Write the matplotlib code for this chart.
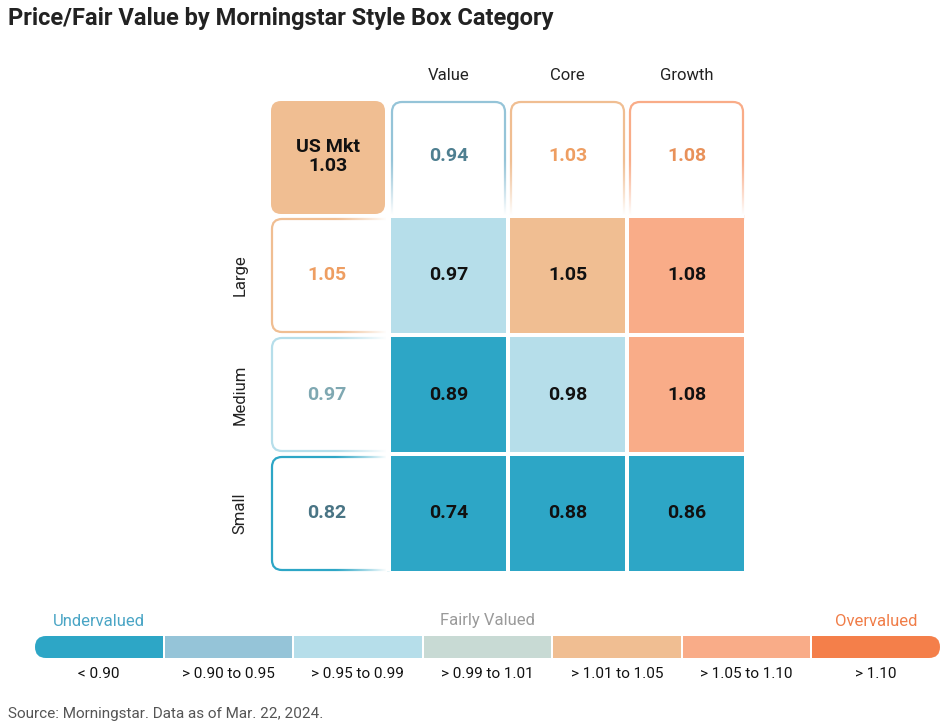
import numpy as np
import matplotlib
matplotlib.use("Agg")
import matplotlib.pyplot as plt
from matplotlib.patches import FancyBboxPatch, Rectangle

plt.rcParams['font.family'] = ['Roboto', 'DejaVu Sans']

# data
styles = ['Value', 'Core', 'Growth']
sizes = ['Large', 'Medium', 'Small']
grid = [[0.97, 1.05, 1.08],
        [0.89, 0.98, 1.08],
        [0.74, 0.88, 0.86]]
style_totals = [0.94, 1.03, 1.08]
size_totals = [1.05, 0.97, 0.82]
market = 1.03

bin_edges = [0.90, 0.95, 0.99, 1.01, 1.05, 1.10]
bin_labels = ['< 0.90', '> 0.90 to 0.95', '> 0.95 to 0.99', '> 0.99 to 1.01',
              '> 1.01 to 1.05', '> 1.05 to 1.10', '> 1.10']
bin_colors = ['#2DA6C6', '#95C4D8', '#B6DEEA', '#C8DAD4', '#F0BE92', '#F9AC88', '#F47F4A']
text_colors = ['#4A7585', '#4E7F90', '#7FA8B2', '#8C9A96', '#EE9E62', '#E8915A', '#E0703A']


def bin_of(v):
    return int(np.digitize(v, bin_edges, right=True))


fig = plt.figure(figsize=(9.52, 7.27), dpi=100)
ax = fig.add_axes([0, 0, 1, 1])
ax.set_xlim(0, 952)
ax.set_ylim(727, 0)
ax.axis('off')

# geometry (pixels)
col_x = [271, 391, 510, 629]
row_y = [101, 218, 337, 456]
cw, ch = 115, 115
rad = 10


def fade(x0, x1, y0, y1, vertical):
    n = 64
    a = np.linspace(0, 1, n) ** 1.2
    if vertical:
        img = np.ones((n, 1, 4))
        img[:, 0, 3] = a
    else:
        img = np.ones((1, n, 4))
        img[0, :, 3] = a
    ax.imshow(img, extent=(x0, x1, y1, y0), origin='upper', aspect='auto',
              zorder=3, interpolation='bilinear')


# market box
b = bin_of(market)
ax.add_patch(FancyBboxPatch((col_x[0], row_y[0]), cw - 1, ch - 2,
                            boxstyle=f"round,pad=0,rounding_size={rad}",
                            fc=bin_colors[b], ec='none', zorder=2))
ax.text(col_x[0] + cw / 2, row_y[0] + ch / 2 - 2, f"US Mkt\n{market:.2f}",
        ha='center', va='center', fontsize=14, fontweight='bold',
        color='#111111', linespacing=1.1, zorder=5)

# column headers
for j, (s, v) in enumerate(zip(styles, style_totals)):
    x = col_x[j + 1]
    b = bin_of(v)
    ax.add_patch(FancyBboxPatch((x + 1, row_y[0] + 1), cw - 2, ch + 12,
                                boxstyle=f"round,pad=0,rounding_size={rad}",
                                fc='white', ec=bin_colors[b], lw=1.6, zorder=2))
    fade(x - 3, x + cw + 3, row_y[0] + 0.5 * ch, row_y[0] + ch - 1, True)
    ax.text(x + cw / 2, row_y[0] + 55, f"{v:.2f}", ha='center', va='center',
            fontsize=14, fontweight='bold', color=text_colors[b], zorder=5)
    ax.text(x + cw / 2, 76, s, ha='center', va='center', fontsize=12,
            color='#222222')

# row headers
for i, (s, v) in enumerate(zip(sizes, size_totals)):
    y = row_y[i + 1]
    b = bin_of(v)
    ax.add_patch(FancyBboxPatch((col_x[0] + 1, y + 1), cw + 12, ch - 2,
                                boxstyle=f"round,pad=0,rounding_size={rad}",
                                fc='white', ec=bin_colors[b], lw=1.6, zorder=2))
    fade(col_x[0] + 0.55 * cw, col_x[0] + cw + 1, y - 3, y + ch + 1, False)
    ax.text(col_x[0] + cw / 2 - 2, y + ch / 2, f"{v:.2f}", ha='center', va='center',
            fontsize=14, fontweight='bold', color=text_colors[b], zorder=5)
    ax.text(240, y + ch / 2, s, ha='center', va='center', fontsize=12,
            rotation=90, color='#222222')

# white strips between header boxes and grid
ax.add_patch(Rectangle((col_x[1] - 4, row_y[0] + ch - 1), 3 * cw + 12, 6,
                       fc='white', ec='none', zorder=3.5))
ax.add_patch(Rectangle((col_x[0] + cw, row_y[1] - 4), 6, 3 * ch + 12,
                       fc='white', ec='none', zorder=3.5))

# grid cells
for i in range(3):
    for j in range(3):
        v = grid[i][j]
        x, y = col_x[j + 1], row_y[i + 1]
        ax.add_patch(Rectangle((x, y), cw, ch, fc=bin_colors[bin_of(v)],
                               ec='none', zorder=4))
        ax.text(x + cw / 2, y + ch / 2, f"{v:.2f}", ha='center', va='center',
                fontsize=14, fontweight='bold', color='#111111', zorder=5)

# legend bar
lx0, lx1, ly, lh = 35, 940, 636, 22
n = len(bin_colors)
gap = 2
seg = (lx1 - lx0 - gap * (n - 1)) / n
for k, (c, lab) in enumerate(zip(bin_colors, bin_labels)):
    x = lx0 + k * (seg + gap)
    if k == 0 or k == n - 1:
        ax.add_patch(FancyBboxPatch((x, ly), seg, lh,
                                    boxstyle=f"round,pad=0,rounding_size={lh / 2}",
                                    fc=c, ec='none'))
        rx = x + seg / 2 if k == 0 else x
        ax.add_patch(Rectangle((rx, ly), seg / 2, lh, fc=c, ec='none'))
    else:
        ax.add_patch(Rectangle((x, ly), seg, lh, fc=c, ec='none'))
    ax.text(x + seg / 2, 674, lab, ha='center', va='center', fontsize=11,
            color='#111111')

ax.text(lx0 + seg / 2, 621, 'Undervalued', ha='center', va='center',
        fontsize=12, color='#4AA5C5')
ax.text(lx0 + 3 * (seg + gap) + seg / 2, 621, 'Fairly Valued', ha='center',
        va='center', fontsize=12, color='#9A9A9A')
ax.text(lx0 + 6 * (seg + gap) + seg / 2, 621, 'Overvalued', ha='center',
        va='center', fontsize=12, color='#F07D48')

ax.text(8, 18, 'Price/Fair Value by Morningstar Style Box Category',
        ha='left', va='center', fontsize=17, fontweight='bold', color='#222222')
ax.text(8, 714, 'Source: Morningstar. Data as of Mar. 22, 2024.', ha='left',
        va='center', fontsize=11, color='#555555')

fig.savefig('out.png', dpi=100)
